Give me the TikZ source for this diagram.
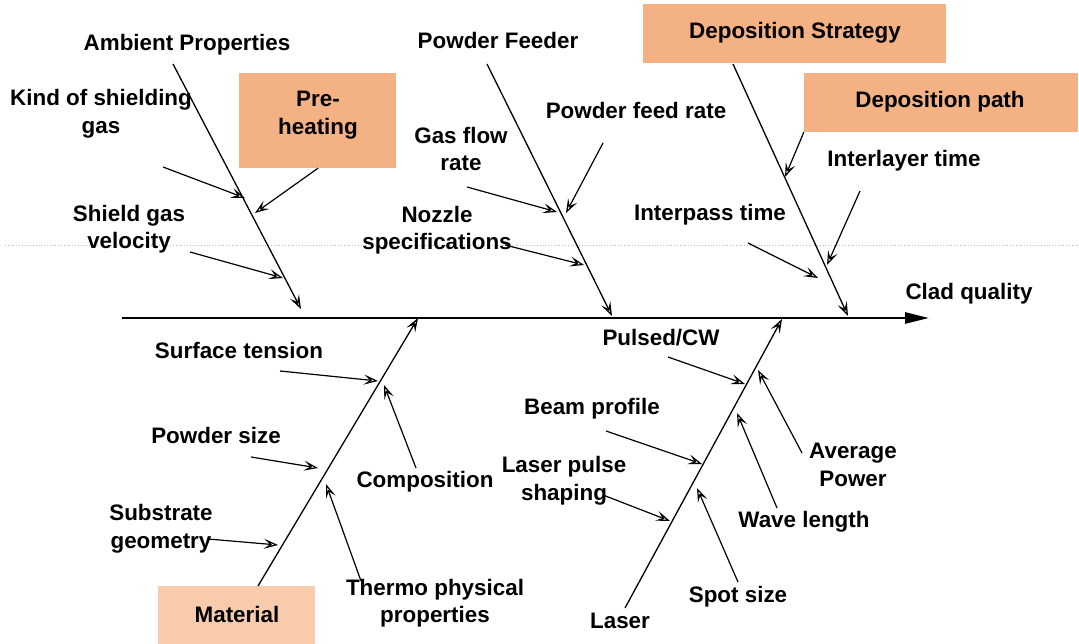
\documentclass[tikz,border=0pt]{standalone}
\usepackage{fontspec}
\setmainfont{Liberation Sans}
\usetikzlibrary{arrows.meta}
\definecolor{boxorange}{HTML}{F4B183}
\definecolor{boxlight}{HTML}{F8CBAD}
\definecolor{guide}{HTML}{BBBBBB}
\tikzset{
  lbl/.style={font=\bfseries\fontsize{22.4}{27.5}\selectfont, align=center, inner sep=0pt, yshift=-3pt},
  catbox/.style={fill=boxorange, draw=none, inner sep=0pt},
  bone/.style={line width=1.3pt, -{Stealth[open, length=14pt, width=10pt, inset=6pt]}},
  cause/.style={line width=1.2pt, -{Stealth[open, length=14pt, width=10pt, inset=6pt]}},
  spine/.style={line width=2.6pt, -{Triangle[length=24pt, width=11pt]}}
}
\begin{document}
\begin{tikzpicture}[x=1pt, y=-1pt]
\useasboundingbox (0,0) rectangle (1079,644);
% guide line
\coordinate (gL) at (5,245);
\coordinate (gR) at (1079,245);
\draw[guide, dotted, line width=0.8pt] (gL) -- (gR);

% boxes
\node[catbox, minimum width=157pt, minimum height=95pt] (pre) at (317.5,120.5) {};
\node[catbox, minimum width=303pt, minimum height=59pt] (dstrat) at (794.5,33.5) {};
\node[catbox, minimum width=274pt, minimum height=59pt] (dpath) at (941,102.5) {};
\node[catbox, fill=boxlight, minimum width=157pt, minimum height=60pt] (mat) at (236.5,616) {};
\node[lbl] (pretext) at (318,112) {Pre-\\heating};
\node[lbl] (dstrattext) at (795,30) {Deposition Strategy};
\node[lbl] (dpathtext) at (940,99) {Deposition path};
\node[lbl] (mattext) at (237,611) {Material};

% labels
\node[lbl] (amb) at (187,42) {Ambient Properties};
\node[lbl] (kind) at (101,111) {Kind of shielding\\gas};
\node[lbl] (shield) at (129,226) {Shield gas\\velocity};
\node[lbl] (pfeed) at (498,37) {Powder Feeder};
\node[lbl] (pfr) at (636,107) {Powder feed rate};
\node[lbl] (gas) at (461,146) {Gas flow\\rate};
\node[lbl] (noz) at (437,227) {Nozzle\\specifications};
\node[lbl] (inter) at (904,158) {Interlayer time};
\node[lbl] (pass) at (710,212) {Interpass time};
\node[lbl] (clad) at (969,291) {Clad quality};
\node[lbl] (surf) at (239,347) {Surface tension};
\node[lbl] (psize) at (216,432) {Powder size};
\node[lbl] (comp) at (425,479) {Composition};
\node[lbl] (subs) at (161,526) {Substrate\\geometry};
\node[lbl] (thermo) at (435,600) {Thermo physical\\properties};
\node[lbl] (laser) at (620,618) {Laser};
\node[lbl] (pulse) at (661,335) {Pulsed/CW};
\node[lbl] (beam) at (592,406) {Beam profile};
\node[lbl] (lps) at (564,478) {Laser pulse\\shaping};
\node[lbl] (avg) at (853,462) {Average\\Power};
\node[lbl] (wave) at (804,519) {Wave length};
\node[lbl] (spot) at (738,594) {Spot size};

% spine
\coordinate (sp0) at (122,318);
\coordinate (sp1) at (929,318);
\draw[spine] (sp0) -- (sp1);

% Ambient properties bone
\coordinate (a0) at (173,64);  \coordinate (a1) at (301,309);
\draw[bone] (a0) -- (a1);
\coordinate (ka) at (163,167); \coordinate (kb) at (245,198);
\draw[cause] (ka) -- (kb);
\coordinate (pb) at (255,213);
\draw[cause] (pre.south) ++(0.5,0) -- (pb);
\coordinate (sa) at (190,252); \coordinate (sb) at (283,278);
\draw[cause] (sa) -- (sb);

% Powder feeder bone
\coordinate (f0) at (487,64);  \coordinate (f1) at (612,316);
\draw[bone] (f0) -- (f1);
\coordinate (ra) at (603,143); \coordinate (rb) at (566,213);
\draw[cause] (ra) -- (rb);
\coordinate (ga) at (467,187); \coordinate (gb) at (557,212);
\draw[cause] (ga) -- (gb);
\coordinate (na) at (505,245); \coordinate (nb) at (584,265);
\draw[cause] (na) -- (nb);

% Deposition strategy bone
\coordinate (d0) at (733,64);  \coordinate (d1) at (848,316);
\draw[bone] (d0) -- (d1);
\coordinate (dpb) at (785,177);
\draw[cause] (dpath.south west) -- (dpb);
\coordinate (ia) at (860,191); \coordinate (ib) at (827,265);
\draw[cause] (ia) -- (ib);
\coordinate (ta) at (748,243); \coordinate (tb) at (818,278);
\draw[cause] (ta) -- (tb);

% Material bone
\coordinate (m0) at (258,586); \coordinate (m1) at (418,318);
\draw[bone] (m0) -- (m1);
\coordinate (sta) at (280,371); \coordinate (stb) at (378,381);
\draw[cause] (sta) -- (stb);
\coordinate (ca) at (416,468); \coordinate (cb) at (384,385);
\draw[cause] (ca) -- (cb);
\coordinate (psa) at (251,457); \coordinate (psb) at (318,468);
\draw[cause] (psa) -- (psb);
\coordinate (sga) at (208,539); \coordinate (sgb) at (278,545);
\draw[cause] (sga) -- (sgb);
\coordinate (tpa) at (361,581); \coordinate (tpb) at (326,484);
\draw[cause] (tpa) -- (tpb);

% Laser bone
\coordinate (l0) at (625,608); \coordinate (l1) at (782,319);
\draw[bone] (l0) -- (l1);
\coordinate (pca) at (668,357); \coordinate (pcb) at (745,384);
\draw[cause] (pca) -- (pcb);
\coordinate (apa) at (802,453); \coordinate (apb) at (758,370);
\draw[cause] (apa) -- (apb);
\coordinate (bpa) at (606,431); \coordinate (bpb) at (702,464);
\draw[cause] (bpa) -- (bpb);
\coordinate (wla) at (777,508); \coordinate (wlb) at (737,413);
\draw[cause] (wla) -- (wlb);
\coordinate (lpa) at (603,495); \coordinate (lpb) at (670,521);
\draw[cause] (lpa) -- (lpb);
\coordinate (ssa) at (738,582); \coordinate (ssb) at (697,488);
\draw[cause] (ssa) -- (ssb);
\end{tikzpicture}
\end{document}
